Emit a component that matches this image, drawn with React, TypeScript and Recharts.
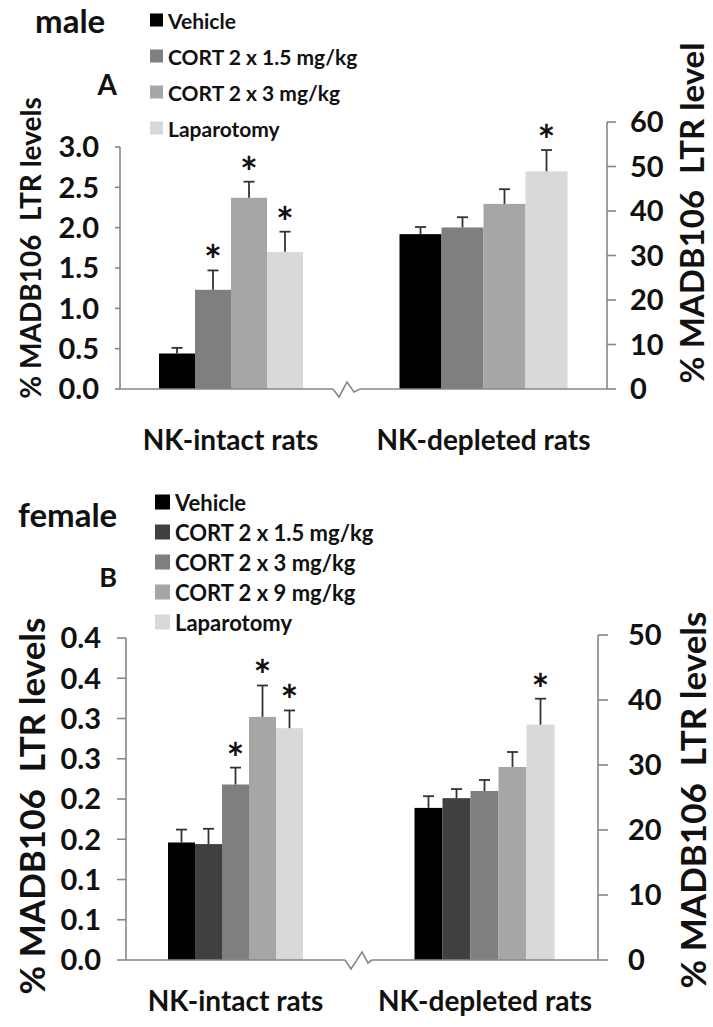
import { BarChart, Bar, XAxis, YAxis } from "recharts"

const FONT = "Lato, 'Open Sans', sans-serif"
const AXIS = "#878787"
const ERR = "#333333"
const TEXT = "#111111"

// panel A (male)
const seriesA = ["Vehicle", "CORT 2 x 1.5 mg/kg", "CORT 2 x 3 mg/kg", "Laparotomy"]
const intactA = [0.44, 1.23, 2.37, 1.7]
const intactErrA = [0.07, 0.24, 0.2, 0.25]
const intactStarA = [false, true, true, true]
const depletedA = [34.8, 36.3, 41.6, 48.9]
const depletedErrA = [1.6, 2.3, 3.3, 4.8]
const depletedStarA = [false, false, false, true]
const ticksIntactA = [0, 0.5, 1, 1.5, 2, 2.5, 3]
const ticksDepletedA = [0, 10, 20, 30, 40, 50, 60]

// panel B (female)
const seriesB = ["Vehicle", "CORT 2 x 1.5 mg/kg", "CORT 2 x 3 mg/kg", "CORT 2 x 9 mg/kg", "Laparotomy"]
const intactB = [0.146, 0.144, 0.218, 0.302, 0.288]
const intactErrB = [0.016, 0.019, 0.021, 0.039, 0.022]
const intactStarB = [false, false, true, true, true]
const depletedB = [23.4, 24.9, 26.0, 29.7, 36.2]
const depletedErrB = [1.8, 1.4, 1.7, 2.3, 4.0]
const depletedStarB = [false, false, false, false, true]
const ticksIntactB = [0, 0.05, 0.1, 0.15, 0.2, 0.25, 0.3, 0.35, 0.4]
const ticksDepletedB = [0, 10, 20, 30, 40, 50]

const groups = ["NK-intact rats", "NK-depleted rats"]
const yTitle = "% MADB106  LTR levels"
const yTitleRightA = "% MADB106  LTR level"

const colorsA = ["#000000", "#7f7f7f", "#a6a6a6", "#d9d9d9"]
const colorsB = ["#000000", "#404040", "#7f7f7f", "#a6a6a6", "#d9d9d9"]

const fmt1 = (v: number) => (Math.round(v * 10 + 1e-6) / 10).toFixed(1)
const fmtInt = (v: number) => String(v)

type ChartProps = {
  name: string
  values: number[]
  errs: number[]
  stars: boolean[]
  colors: string[]
  ticks: number[]
  fmt: (v: number) => string
  side: "left" | "right"
  box: { left: number; top: number; width: number; height: number }
  margin: { top: number; right: number; bottom: number; left: number }
  yWidth: number
  xHeight: number
  tickSize: number
  tickMargin: number
  gap: number
  pad?: number
  labelDy: number
}

function GroupChart(p: ChartProps) {
  const row: Record<string, string | number> = { group: p.name }
  p.values.forEach((v, i) => (row[`s${i}`] = v))
  const data = [row]

  // bar + one-sided error bar (+ significance star), scaled from the bar's own geometry
  const shape = (i: number) => (b: any) => {
    const k = b.height / p.values[i]
    const top = b.y - p.errs[i] * k
    const cx = b.x + b.width / 2
    return (
      <g>
        <rect x={b.x} y={b.y} width={b.width} height={b.height} fill={p.colors[i]} />
        <line x1={cx} x2={cx} y1={b.y} y2={top} stroke={ERR} strokeWidth={1.8} />
        <line x1={cx - 5.5} x2={cx + 5.5} y1={top} y2={top} stroke={ERR} strokeWidth={1.8} />
        {p.stars[i] ? (
          <text x={cx} y={top + 6} textAnchor="middle" fontSize={42} fontWeight={700} fontFamily={FONT} fill={TEXT}>
            *
          </text>
        ) : null}
      </g>
    )
  }

  const xTick = (t: any) => (
    <text
      x={t.x}
      y={t.y}
      dy={p.labelDy}
      textAnchor="middle"
      dominantBaseline="central"
      fontSize={28}
      fontWeight={700}
      fontFamily={FONT}
      fill={TEXT}
    >
      {t.payload.value}
    </text>
  )

  return (
    <div style={{ position: "absolute", ...p.box }}>
      <BarChart
        width={p.box.width}
        height={p.box.height}
        data={data}
        margin={p.margin}
        barCategoryGap={p.gap}
        barGap={0}
        style={{ overflow: "visible" }}
      >
        <XAxis
          dataKey="group"
          tickLine={false}
          tickSize={0}
          tickMargin={0}
          height={p.xHeight}
          axisLine={{ stroke: AXIS, strokeWidth: 1.6 }}
          tick={xTick}
          padding={{ left: p.pad ?? 0, right: 0 }}
          interval={0}
        />
        <YAxis
          orientation={p.side}
          width={p.yWidth}
          domain={[p.ticks[0], p.ticks[p.ticks.length - 1]]}
          ticks={p.ticks}
          interval={0}
          tickFormatter={p.fmt}
          tickSize={p.tickSize}
          tickMargin={p.tickMargin}
          axisLine={{ stroke: AXIS, strokeWidth: 1.6 }}
          tickLine={{ stroke: AXIS, strokeWidth: 1.6 }}
          tick={{ fill: TEXT, fontSize: 29, fontWeight: 700, fontFamily: FONT }}
        />
        {p.values.map((_, i) => (
          <Bar key={i} dataKey={`s${i}`} fill={p.colors[i]} isAnimationActive={false} shape={shape(i)} />
        ))}
      </BarChart>
    </div>
  )
}

function LegendBlock({
  series,
  colors,
  x,
  y,
  step,
  size,
  fontSize,
}: {
  series: string[]
  colors: string[]
  x: number
  y: number
  step: number
  size: number
  fontSize: number
}) {
  return (
    <g>
      {series.map((s, i) => (
        <g key={s}>
          <rect x={x} y={y + i * step - size / 2} width={size} height={size} fill={colors[i]} />
          <text
            x={x + size + 5}
            y={y + i * step}
            dominantBaseline="central"
            fontSize={fontSize}
            fontWeight={700}
            fontFamily={FONT}
            fill={TEXT}
          >
            {s}
          </text>
        </g>
      ))}
    </g>
  )
}

export default function App() {
  const title = { fontFamily: FONT, fontWeight: 700, fill: TEXT }
  return (
    <div
      style={{
        position: "absolute",
        left: 0,
        top: 0,
        width: 713,
        height: 1027,
        background: "#fff",
        overflow: "hidden",
      }}
    >
      {/* male */}
      <GroupChart
        name={groups[0]}
        values={intactA}
        errs={intactErrA}
        stars={intactStarA}
        colors={colorsA}
        ticks={ticksIntactA}
        fmt={(v) => v.toFixed(1)}
        side="left"
        box={{ left: 0, top: 0, width: 333, height: 460 }}
        margin={{ top: 147, right: 0, bottom: 11, left: 50 }}
        yWidth={70}
        xHeight={60}
        tickSize={5}
        tickMargin={16}
        gap={31}
        pad={8}
        labelDy={50}
      />
      <GroupChart
        name={groups[1]}
        values={depletedA}
        errs={depletedErrA}
        stars={depletedStarA}
        colors={colorsA}
        ticks={ticksDepletedA}
        fmt={fmtInt}
        side="right"
        box={{ left: 360, top: 0, width: 353, height: 460 }}
        margin={{ top: 122, right: 6, bottom: 11, left: 0 }}
        yWidth={100}
        xHeight={60}
        tickSize={9}
        tickMargin={14}
        gap={39.5}
        labelDy={50}
      />

      {/* female */}
      <GroupChart
        name={groups[0]}
        values={intactB}
        errs={intactErrB}
        stars={intactStarB}
        colors={colorsB}
        ticks={ticksIntactB}
        fmt={fmt1}
        side="left"
        box={{ left: 0, top: 480, width: 345, height: 547 }}
        margin={{ top: 158, right: 0, bottom: 11, left: 56 }}
        yWidth={70}
        xHeight={56}
        tickSize={9}
        tickMargin={16}
        gap={42}
        labelDy={40}
      />
      <GroupChart
        name={groups[1]}
        values={depletedB}
        errs={depletedErrB}
        stars={depletedStarB}
        colors={colorsB}
        ticks={ticksDepletedB}
        fmt={fmtInt}
        side="right"
        box={{ left: 372, top: 480, width: 341, height: 547 }}
        margin={{ top: 155, right: 10, bottom: 11, left: 0 }}
        yWidth={105}
        xHeight={56}
        tickSize={10}
        tickMargin={20}
        gap={42.5}
        labelDy={40}
      />

      <svg width={713} height={1027} style={{ position: "absolute", left: 0, top: 0, pointerEvents: "none" }}>
        {/* axis breaks */}
        <polyline points="333,389 339,397 347,382 354,392 360,389" fill="none" stroke={AXIS} strokeWidth={1.6} />
        <polyline points="345,960 351,969 362,952 368,963 372,960" fill="none" stroke={AXIS} strokeWidth={1.6} />

        <text x={35} y={33} fontSize={33} {...title}>male</text>
        <text x={117} y={95} fontSize={28} textAnchor="end" {...title}>A</text>
        <text x={18} y={527} fontSize={33} {...title}>female</text>
        <text x={117} y={587} fontSize={27} textAnchor="end" {...title}>B</text>

        <LegendBlock series={seriesA} colors={colorsA} x={150} y={20} step={36} size={13} fontSize={21} />
        <LegendBlock series={seriesB} colors={colorsB} x={155} y={502} step={30} size={15} fontSize={22} />

        <text
          transform="translate(30,248) rotate(-90)"
          textAnchor="middle"
          dominantBaseline="central"
          fontSize={28}
          style={{ whiteSpace: "pre" }}
          {...title}
        >
          {yTitle}
        </text>
        <text
          transform="translate(691,213) rotate(-90)"
          textAnchor="middle"
          dominantBaseline="central"
          fontSize={33}
          style={{ whiteSpace: "pre" }}
          {...title}
        >
          {yTitleRightA}
        </text>
        <text
          transform="translate(31,806) rotate(-90)"
          textAnchor="middle"
          dominantBaseline="central"
          fontSize={35}
          style={{ whiteSpace: "pre" }}
          {...title}
        >
          {yTitle}
        </text>
        <text
          transform="translate(692,800) rotate(-90)"
          textAnchor="middle"
          dominantBaseline="central"
          fontSize={35}
          style={{ whiteSpace: "pre" }}
          {...title}
        >
          {yTitle}
        </text>
      </svg>
    </div>
  )
}
